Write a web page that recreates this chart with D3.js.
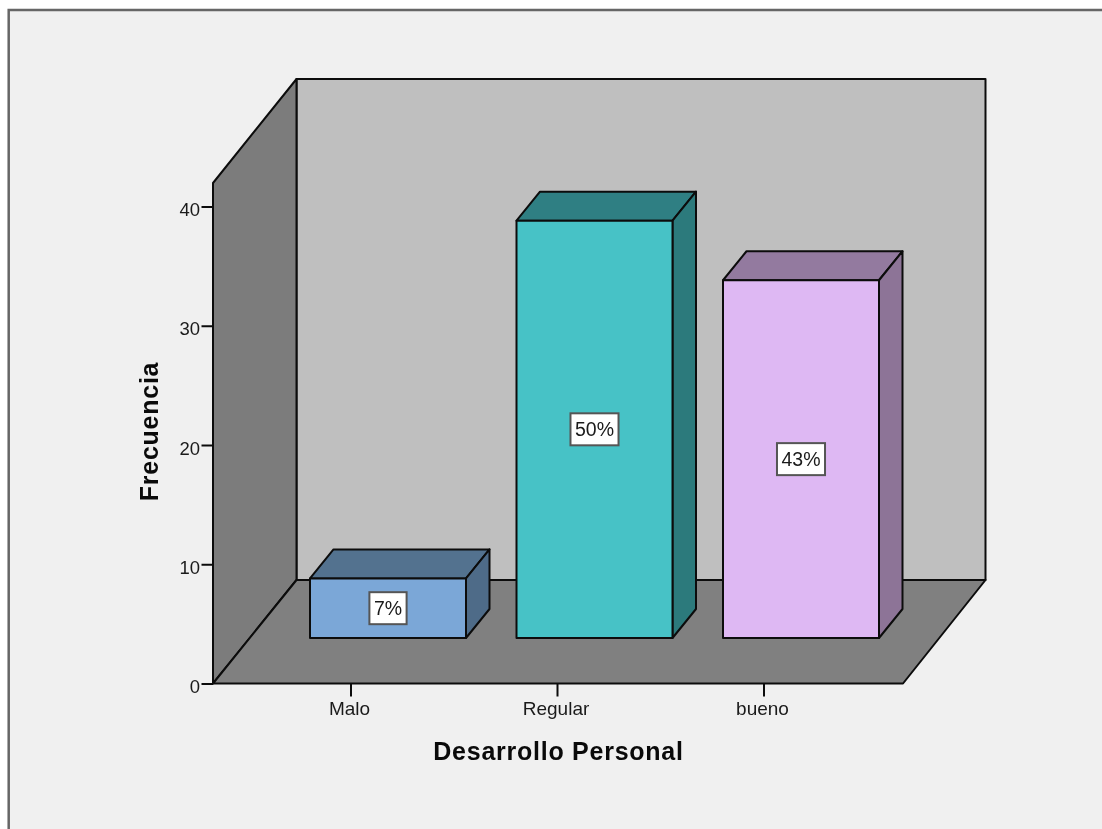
<!DOCTYPE html>
<html><head><meta charset="utf-8">
<script src="https://cdn.jsdelivr.net/npm/d3@7"></script>
<style>
html,body{margin:0;padding:0;background:#fff;overflow:hidden}
svg{display:block;filter:blur(0.5px)}
text{font-family:"Liberation Sans",Arial,sans-serif;fill:#1a1a1a}
</style></head><body>
<div id="chart"></div>
<script>
const categories = ["Malo", "Regular", "bueno"];
const frequencies = [5, 35, 30];
const percentLabels = ["7%", "50%", "43%"];
const yTicks = [0, 10, 20, 30, 40];
const faceColors = ["#7ba7d7", "#47c2c6", "#deb8f3"];
const topColors = ["#53728f", "#2f7f83", "#937a9f"];
const sideColors = ["#4e6b88", "#2c7a7c", "#8d7497"];
const xTitle = "Desarrollo Personal";
const yTitle = "Frecuencia";

const W = 1102, H = 829;
const svg = d3.select("#chart").append("svg").attr("width", W).attr("height", H);
const ink = "#0c0c0c";

// frame
svg.append("rect").attr("x", 8.7).attr("y", 10).attr("width", W + 20).attr("height", H + 20)
  .attr("fill", "#f0f0f0").attr("stroke", "#666").attr("stroke-width", 2.5);

const y = d3.scaleLinear().domain([0, 40]).range([683.5, 206.5]);
const x = d3.scaleBand().domain(categories).range([247.75, 867.25]);
const px0 = 213, px1 = 903, wallDx = 83.5, wallDy = -103.5, wallTop = 79;
const poly = (pts, fill) => svg.append("polygon").attr("points", pts.map(p => p.join(",")).join(" "))
  .attr("fill", fill).attr("stroke", ink).attr("stroke-width", 2).attr("stroke-linejoin", "round");

// walls and floor
poly([[px0 + wallDx, wallTop], [px1 + wallDx - 1, wallTop], [px1 + wallDx - 1, y(0) + wallDy], [px0 + wallDx, y(0) + wallDy]], "#bfbfbf");
poly([[px0, wallTop + 104], [px0 + wallDx, wallTop], [px0 + wallDx, y(0) + wallDy], [px0, y(0)]], "#7c7c7c");
poly([[px0, y(0)], [px0 + wallDx, y(0) + wallDy], [px1 + wallDx - 1, y(0) + wallDy], [px1, y(0)]], "#808080");

// axes
const yAxis = d3.axisLeft(y).tickValues(yTicks).tickFormat(d3.format("d"));
const gy = svg.append("g").attr("transform", `translate(${px0},0)`).call(yAxis);
gy.select(".domain").remove();
gy.selectAll("line").attr("stroke", ink).attr("stroke-width", 2).attr("x2", -11.5);
gy.selectAll("text").attr("x", -13).attr("y", 2.5).style("font-size", "18.5px").attr("dy", "0.36em");

const xAxis = d3.axisBottom(x).tickSize(13);
const gx = svg.append("g").attr("transform", `translate(0,${y(0)})`).call(xAxis);
gx.select(".domain").remove();
gx.selectAll("line").attr("stroke", ink).attr("stroke-width", 2);
gx.selectAll("text").style("font-size", "19px").attr("dx", -1.5).attr("dy", 0).attr("y", 31.5);

// bars
const barW = 156, dx = 23.5, dy = -29, base = 638, shift = 37;
const bars = categories.map((c, i) => {
  const left = x(c) + x.bandwidth() / 2 + shift - barW / 2;
  const h = y(0) - y(frequencies[i]);
  return {i, left, right: left + barW, top: base - h};
});
bars.forEach(b => {
  poly([[b.left, b.top], [b.left + dx, b.top + dy], [b.right + dx, b.top + dy], [b.right, b.top]], topColors[b.i]);
  poly([[b.right, b.top], [b.right + dx, b.top + dy], [b.right + dx, base + dy], [b.right, base]], sideColors[b.i]);
  poly([[b.left, b.top], [b.right, b.top], [b.right, base], [b.left, base]], faceColors[b.i]);
});
bars.forEach(b => {
  const cx = (b.left + b.right) / 2, cy = (b.top + base) / 2;
  const g = svg.append("g");
  const r = g.append("rect");
  const t = g.append("text").attr("x", cx).attr("y", cy).attr("dy", "0.36em")
    .attr("text-anchor", "middle").style("font-size", "19.5px").text(percentLabels[b.i]);
  const w = t.node().getComputedTextLength() + 9;
  r.attr("x", cx - w / 2).attr("y", cy - 16).attr("width", w).attr("height", 32)
    .attr("fill", "#fff").attr("stroke", "#555").attr("stroke-width", 2);
});

// titles
svg.append("text").attr("x", 558.5).attr("y", 760).attr("text-anchor", "middle")
  .style("font-size", "25px").style("font-weight", "bold").style("letter-spacing", "0.75px").style("fill", "#0a0a0a").text(xTitle);
svg.append("text").attr("transform", "translate(158,431.5) rotate(-90)").attr("text-anchor", "middle")
  .style("font-size", "25px").style("font-weight", "bold").style("letter-spacing", "0.75px").style("fill", "#0a0a0a").text(yTitle);
</script>
</body></html>
